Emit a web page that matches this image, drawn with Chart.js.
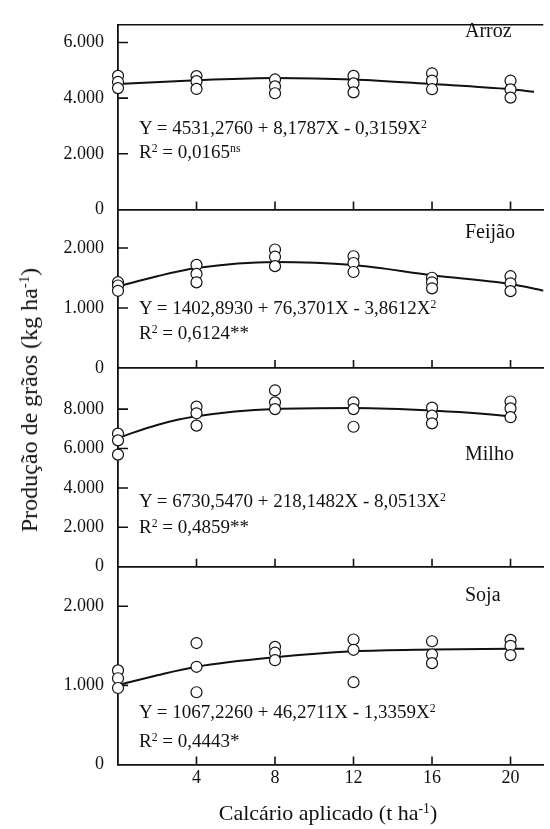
<!DOCTYPE html>
<html>
<head>
<meta charset="utf-8">
<script src="https://cdn.jsdelivr.net/npm/chart.js@4.4.1/dist/chart.umd.min.js"></script>
<style>
  body { margin: 0; background: #fff; }
  #wrap { position: relative; width: 550px; height: 829px; font-family: "Liberation Serif", "Times New Roman", serif; color: #111; }
  #wrap canvas { position: absolute; left: 0; top: 0; }
  .t { position: absolute; white-space: nowrap; line-height: 1; }
  .t sup { font-size: 62%; position: relative; top: -0.55em; vertical-align: baseline; }
  .eq { font-size: 19px; left: 139px; }
  .lab { font-size: 20px; left: 465px; }
</style>
</head>
<body>
<div id="wrap">
  <canvas id="c1" width="550" height="829"></canvas>
  <canvas id="c2" width="550" height="829"></canvas>
  <canvas id="c3" width="550" height="829"></canvas>
  <canvas id="c4" width="550" height="829"></canvas>

  <div class="t lab" style="top:20px">Arroz</div>
  <div class="t eq" style="top:118px">Y = 4531,2760 + 8,1787X - 0,3159X<sup>2</sup></div>
  <div class="t eq" style="top:142px">R<sup>2</sup> = 0,0165<sup>ns</sup></div>

  <div class="t lab" style="top:221px">Feijão</div>
  <div class="t eq" style="top:298px">Y = 1402,8930 + 76,3701X - 3,8612X<sup>2</sup></div>
  <div class="t eq" style="top:323px">R<sup>2</sup> = 0,6124**</div>

  <div class="t lab" style="top:443px">Milho</div>
  <div class="t eq" style="top:491px">Y = 6730,5470 + 218,1482X - 8,0513X<sup>2</sup></div>
  <div class="t eq" style="top:517px">R<sup>2</sup> = 0,4859**</div>

  <div class="t lab" style="top:584px">Soja</div>
  <div class="t eq" style="top:702px">Y = 1067,2260 + 46,2711X - 1,3359X<sup>2</sup></div>
  <div class="t eq" style="top:731px">R<sup>2</sup> = 0,4443*</div>

  <div class="t" style="font-size:22px; left:328px; top:802px; transform:translateX(-50%)">Calcário aplicado (t ha<sup>-1</sup>)</div>
  <div class="t" style="font-size:24px; left:29px; top:400px; transform:translate(-50%,-50%) rotate(-90deg)">Produção de grãos (kg ha<sup>-1</sup>)</div>
</div>

<script>
// doses of lime (t/ha)
const doses = [0, 4, 8, 12, 16, 20];
const xTickValues = [4, 8, 12, 16, 20];

// observed yields, three replicates per dose
const arrozObs = [[4800, 4580, 4360], [4790, 4610, 4330], [4670, 4420, 4175], [4800, 4530, 4205], [4890, 4630, 4320], [4625, 4312, 4018]];
const feijaoObs = [[1430, 1375, 1287], [1718, 1568, 1428], [1975, 1855, 1698], [1863, 1750, 1600], [1504, 1428, 1328], [1530, 1412, 1281]];
const milhoObs = [[6757, 6415, 5690], [8130, 7790, 7165], [8958, 8345, 8003], [8345, 8003, 7107], [8078, 7670, 7279], [8390, 8040, 7592]];
const sojaObs = [[1190, 1090, 967], [1535, 1235, 913], [1487, 1413, 1318], [1580, 1450, 1040], [1558, 1390, 1281], [1575, 1500, 1383]];

// fitted curves
const arrozFitX = [0, 4, 8, 12, 16, 20, 21.2];
const arrozFitY = [4510, 4640, 4725, 4670, 4505, 4318, 4228];
const feijaoFitX = [0, 2, 4, 8, 12, 16, 20, 21.67];
const feijaoFitY = [1360, 1530, 1665, 1768, 1715, 1545, 1400, 1290];
const milhoFitX = [0, 2, 4, 8, 12, 16, 20, 20.3];
const milhoFitY = [6543, 7200, 7635, 8010, 8060, 7930, 7630, 7580];
const sojaFitX = [0, 2, 4, 8, 12, 16, 20, 20.7];
const sojaFitY = [1003, 1127, 1235, 1355, 1430, 1453, 1462, 1462];

// y tick values per panel
const arrozTicks = [0, 2000, 4000, 6000];
const feijaoTicks = [0, 1000, 2000];
const milhoTicks = [0, 2000, 4000, 6000, 8000];
const sojaTicks = [0, 1000, 2000];

const ink = '#111';
const fmt = v => String(v).replace(/\B(?=(\d{3})+(?!\d))/g, '.');

// tick marks drawn inward, plus the top frame line
const inwardTicks = {
  id: 'inwardTicks',
  beforeDatasetsDraw(chart, args, opts) {
    const {ctx, chartArea, scales} = chart;
    ctx.save();
    ctx.strokeStyle = ink;
    ctx.lineWidth = 1.6;
    ctx.beginPath();
    scales.y.ticks.forEach(t => {
      if (t.value === 0) return;
      const py = scales.y.getPixelForValue(t.value);
      ctx.moveTo(chartArea.left, py);
      ctx.lineTo(chartArea.left + 10, py);
    });
    xTickValues.forEach(v => {
      const px = scales.x.getPixelForValue(v);
      ctx.moveTo(px, chartArea.bottom);
      ctx.lineTo(px, chartArea.bottom - 8);
    });
    if (opts.top) {
      ctx.moveTo(chartArea.left - 0.9, chartArea.top);
      ctx.lineTo(chartArea.right, chartArea.top);
    }
    ctx.stroke();
    ctx.restore();
  }
};

function makePanel(id, p) {
  const xAxisH = p.showX ? 30 : 0;
  const pts = [];
  doses.forEach((d, i) => p.obs[i].forEach(v => pts.push({x: d, y: v})));
  const fit = p.fitX.map((x, i) => ({x: x, y: p.fitY[i]}));

  new Chart(document.getElementById(id), {
    type: 'scatter',
    data: {
      datasets: [
        {
          data: pts,
          pointRadius: 5.5,
          pointBorderWidth: 1.2,
          pointBorderColor: ink,
          pointBackgroundColor: '#fff',
          clip: false
        },
        {
          type: 'line',
          data: fit,
          borderColor: ink,
          borderWidth: 2,
          pointRadius: 0,
          cubicInterpolationMode: 'monotone',
          fill: false,
          clip: false
        }
      ]
    },
    options: {
      responsive: false,
      animation: false,
      events: [],
      layout: { padding: { top: p.top, bottom: 829 - p.bottom - xAxisH, left: 0, right: 0 } },
      plugins: { legend: { display: false }, tooltip: { enabled: false }, inwardTicks: { top: !!p.topLine } },
      scales: {
        x: {
          type: 'linear',
          min: 0,
          max: 21.67,
          border: { color: ink, width: 1.8 },
          grid: { drawOnChartArea: false, drawTicks: false },
          ticks: { display: !!p.showX, padding: 3, color: ink, font: { family: 'Liberation Serif', size: 18 } },
          afterBuildTicks: s => { s.ticks = xTickValues.map(v => ({value: v})); },
          afterFit: s => { s.height = xAxisH; }
        },
        y: {
          min: 0,
          max: p.max,
          border: { color: ink, width: 1.8 },
          grid: { drawOnChartArea: false, drawTicks: false },
          ticks: { padding: 14, color: ink, font: { family: 'Liberation Serif', size: 18 }, callback: v => fmt(v) },
          afterBuildTicks: s => { s.ticks = p.ticks.map(v => ({value: v})); },
          afterFit: s => { s.width = 118; }
        }
      }
    },
    plugins: [inwardTicks]
  });
}

makePanel('c1', {top: 10.5, bottom: 209.5, max: 6633, ticks: arrozTicks, obs: arrozObs, fitX: arrozFitX, fitY: arrozFitY, topLine: true});
makePanel('c2', {top: 209.5, bottom: 368, max: 2642, ticks: feijaoTicks, obs: feijaoObs, fitX: feijaoFitX, fitY: feijaoFitY});
makePanel('c3', {top: 368, bottom: 566.7, max: 10090, ticks: milhoTicks, obs: milhoObs, fitX: milhoFitX, fitY: milhoFitY});
makePanel('c4', {top: 566.7, bottom: 764.5, max: 2500, ticks: sojaTicks, obs: sojaObs, fitX: sojaFitX, fitY: sojaFitY, showX: true});
</script>
</body>
</html>
